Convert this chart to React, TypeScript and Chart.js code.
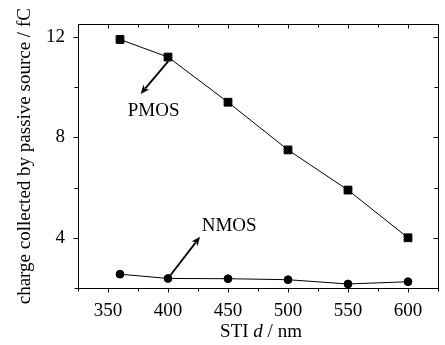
import { useEffect, useRef } from 'react';
import { Chart, registerables } from 'chart.js';

Chart.register(...registerables);

const stiDepth = [360, 400, 450, 500, 550, 600];
const pmosCharge = [11.9, 11.2, 9.4, 7.5, 5.9, 4.0];
const nmosCharge = [2.55, 2.38, 2.37, 2.33, 2.16, 2.25];

const xRange = [325, 625];
const yRange = [2, 12.5];
const xMajorTicks = [350, 400, 450, 500, 550, 600];
const xMinorTicks = [325, 375, 425, 475, 525, 575, 625];
const yMajorTicks = [4, 8, 12];
const yMinorTicks = [2, 6, 10];

const noteLabels = ['PMOS', 'NMOS'];
const noteX = [388, 451];
const noteY = [8.87, 4.26];
const arrowTailX = [400.3, 401.7];
const arrowTailY = [11.04, 2.49];
const arrowTipX = [377.2, 426.7];
const arrowTipY = [9.73, 4.04];

const xTitleParts = [
  { text: 'STI ', italic: false },
  { text: 'd', italic: true },
  { text: ' / nm', italic: false },
];
const yTitle = 'charge collected by passive source / fC';

const FONT_FAMILY = '"Liberation Serif", "DejaVu Serif", serif';
const FONT_SIZE = 19;

const framePlugin = {
  id: 'frameAndTicks',
  beforeDatasetsDraw(chart: any) {
    const { ctx, chartArea, scales } = chart;
    const { left, right, top, bottom } = chartArea;
    const xs = scales.x;
    const ys = scales.y;
    ctx.save();
    ctx.strokeStyle = '#000';
    ctx.lineWidth = 1;
    ctx.strokeRect(Math.round(left) + 0.5, Math.round(top) + 0.5, Math.round(right - left), Math.round(bottom - top));
    const drawX = (v: number, len: number) => {
      const px = Math.round(xs.getPixelForValue(v)) + 0.5;
      ctx.beginPath();
      ctx.moveTo(px, Math.round(bottom) + 0.5);
      ctx.lineTo(px, Math.round(bottom) + 0.5 + len);
      ctx.moveTo(px, Math.round(top) + 0.5);
      ctx.lineTo(px, Math.round(top) + 0.5 + len);
      ctx.stroke();
    };
    const drawY = (v: number, len: number) => {
      const py = Math.round(ys.getPixelForValue(v)) + 0.5;
      ctx.beginPath();
      ctx.moveTo(Math.round(left) + 0.5, py);
      ctx.lineTo(Math.round(left) + 0.5 - len, py);
      ctx.moveTo(Math.round(right) + 0.5, py);
      ctx.lineTo(Math.round(right) + 0.5 - len, py);
      ctx.stroke();
    };
    xMajorTicks.forEach((v) => drawX(v, 4));
    xMinorTicks.forEach((v) => drawX(v, 3));
    yMajorTicks.forEach((v) => drawY(v, 5));
    yMinorTicks.forEach((v) => drawY(v, 4));
    ctx.restore();
  },
  afterDraw(chart: any) {
    const { ctx, chartArea, scales } = chart;
    const xs = scales.x;
    const ys = scales.y;
    ctx.save();
    ctx.fillStyle = '#000';
    ctx.strokeStyle = '#000';
    for (let i = 0; i < noteLabels.length; i++) {
      const x1 = xs.getPixelForValue(arrowTailX[i]);
      const y1 = ys.getPixelForValue(arrowTailY[i]);
      const x2 = xs.getPixelForValue(arrowTipX[i]);
      const y2 = ys.getPixelForValue(arrowTipY[i]);
      const ang = Math.atan2(y2 - y1, x2 - x1);
      const headLen = 9;
      const headW = 3.8;
      const bx = x2 - headLen * Math.cos(ang);
      const by = y2 - headLen * Math.sin(ang);
      ctx.lineWidth = 1.8;
      ctx.beginPath();
      ctx.moveTo(x1, y1);
      ctx.lineTo(bx + 2 * Math.cos(ang), by + 2 * Math.sin(ang));
      ctx.stroke();
      ctx.beginPath();
      ctx.moveTo(x2, y2);
      ctx.lineTo(bx - headW * Math.sin(ang), by + headW * Math.cos(ang));
      ctx.lineTo(bx + 2.5 * Math.cos(ang), by + 2.5 * Math.sin(ang));
      ctx.lineTo(bx + headW * Math.sin(ang), by - headW * Math.cos(ang));
      ctx.closePath();
      ctx.fill();
      ctx.font = `${FONT_SIZE}px ${FONT_FAMILY}`;
      ctx.textAlign = 'center';
      ctx.textBaseline = 'alphabetic';
      ctx.fillText(noteLabels[i], xs.getPixelForValue(noteX[i]), ys.getPixelForValue(noteY[i]));
    }
    const fontFor = (italic: boolean) => `${italic ? 'italic ' : ''}${FONT_SIZE}px ${FONT_FAMILY}`;
    let total = 0;
    const widths = xTitleParts.map((p) => {
      ctx.font = fontFor(p.italic);
      const w = ctx.measureText(p.text).width;
      total += w;
      return w;
    });
    let cx = (chartArea.left + chartArea.right) / 2 + 3 - total / 2;
    ctx.textAlign = 'left';
    ctx.textBaseline = 'alphabetic';
    xTitleParts.forEach((p, i) => {
      ctx.font = fontFor(p.italic);
      ctx.fillText(p.text, cx, 337);
      cx += widths[i];
    });
    ctx.restore();
  },
};

export default function App() {
  const canvasRef = useRef<HTMLCanvasElement | null>(null);

  useEffect(() => {
    const canvas = canvasRef.current;
    if (!canvas) return;
    const chart = new Chart(canvas, {
      type: 'line',
      data: {
        datasets: [
          {
            label: 'PMOS',
            data: stiDepth.map((x, i) => ({ x, y: pmosCharge[i] })),
            borderColor: '#000',
            backgroundColor: '#000',
            borderWidth: 1,
            pointStyle: 'rect',
            pointRadius: 5.5,
            pointBorderWidth: 1,
            pointBackgroundColor: '#000',
            pointBorderColor: '#000',
            clip: false,
          },
          {
            label: 'NMOS',
            data: stiDepth.map((x, i) => ({ x, y: nmosCharge[i] })),
            borderColor: '#000',
            backgroundColor: '#000',
            borderWidth: 1,
            pointStyle: 'circle',
            pointRadius: 3.9,
            pointBorderWidth: 1,
            pointBackgroundColor: '#000',
            pointBorderColor: '#000',
            clip: false,
          },
        ],
      },
      options: {
        animation: false,
        responsive: false,
        devicePixelRatio: 1,
        layout: { padding: { top: 23, right: 7, left: 0, bottom: 0 } },
        plugins: {
          legend: { display: false },
          tooltip: { enabled: false },
        },
        scales: {
          x: {
            type: 'linear',
            min: xRange[0],
            max: xRange[1],
            afterBuildTicks: (s: any) => {
              s.ticks = xMajorTicks.map((v) => ({ value: v }));
            },
            afterFit: (s: any) => {
              s.height = 57;
            },
            grid: { display: false, drawTicks: false, tickLength: 0 },
            border: { display: false },
            ticks: {
              color: '#000',
              padding: 12,
              maxRotation: 0,
              autoSkip: false,
              font: { family: FONT_FAMILY, size: FONT_SIZE },
            },
          },
          y: {
            type: 'linear',
            min: yRange[0],
            max: yRange[1],
            afterBuildTicks: (s: any) => {
              s.ticks = yMajorTicks.map((v) => ({ value: v }));
            },
            afterFit: (s: any) => {
              s.width = 78;
            },
            grid: { display: false, drawTicks: false, tickLength: 0 },
            border: { display: false },
            ticks: {
              color: '#000',
              padding: 13,
              font: { family: FONT_FAMILY, size: FONT_SIZE },
            },
            title: {
              display: true,
              text: yTitle,
              color: '#000',
              font: { family: FONT_FAMILY, size: FONT_SIZE },
              padding: { top: 14, bottom: 0 },
            },
          },
        },
      },
      plugins: [framePlugin],
    });
    return () => chart.destroy();
  }, []);

  return (
    <div style={{ position: 'fixed', left: 0, top: 0, width: 445, height: 345, background: '#fff' }}>
      <canvas ref={canvasRef} width={445} height={345} style={{ width: 445, height: 345, display: 'block' }} />
    </div>
  );
}
